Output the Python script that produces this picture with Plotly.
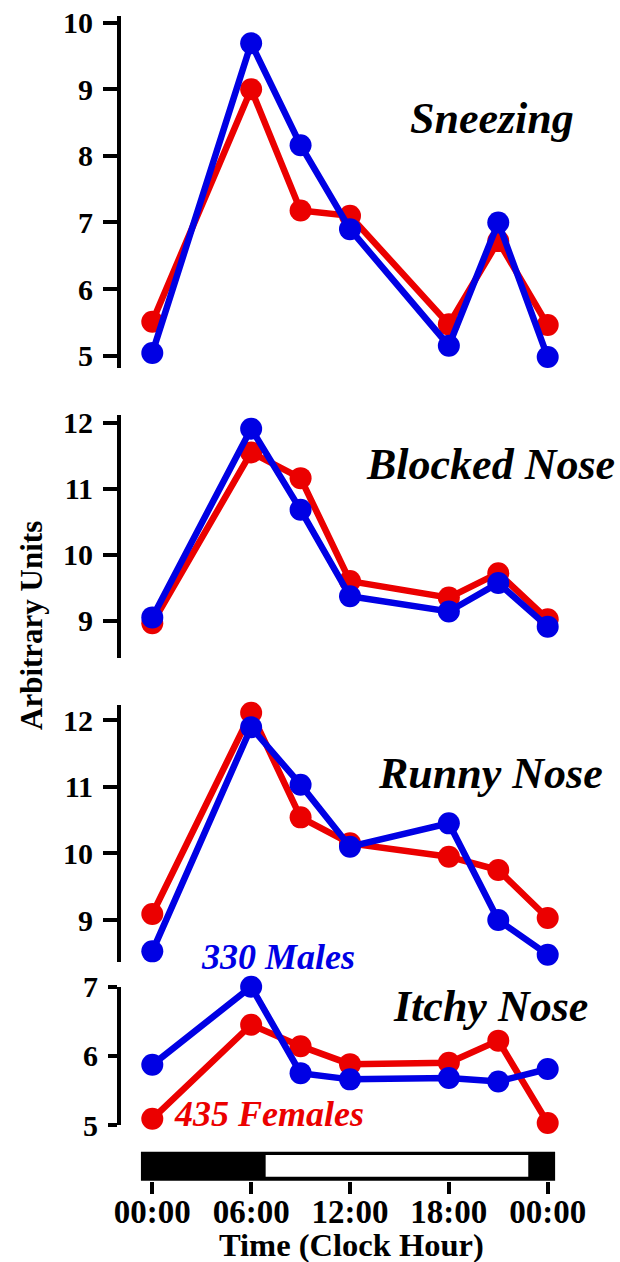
import plotly.graph_objects as go

W, H = 620, 1262

hours = [0, 6, 9, 12, 18, 21, 24]
x_tick_vals = [0, 6, 12, 18, 24]
x_tick_text = ["00:00", "06:00", "12:00", "18:00", "00:00"]

panel_names = ["Sneezing", "Blocked Nose", "Runny Nose", "Itchy Nose"]

sneezing_female = [5.51, 9.00, 7.18, 7.10, 5.47, 6.72, 5.46]
sneezing_male = [5.04, 9.69, 8.16, 6.90, 5.15, 7.00, 4.98]

blocked_female = [8.96, 11.55, 11.16, 9.60, 9.35, 9.72, 9.02]
blocked_male = [9.05, 11.91, 10.68, 9.37, 9.14, 9.57, 8.91]

runny_female = [9.09, 12.11, 10.54, 10.15, 9.95, 9.75, 9.03]
runny_male = [8.53, 11.89, 11.03, 10.10, 10.45, 9.00, 8.48]

itchy_female = [5.09, 6.45, 6.14, 5.88, 5.90, 6.22, 5.03]
itchy_male = [5.87, 7.00, 5.75, 5.66, 5.68, 5.63, 5.81]

y_tick_vals = [[5, 6, 7, 8, 9, 10], [9, 10, 11, 12], [9, 10, 11, 12], [5, 6, 7]]
y_ranges = [[4.815, 10.1], [8.43, 12.117], [8.375, 12.225], [5, 7]]

light_on, light_off = 6.88, 22.82
bar_start, bar_end = -0.69, 24.45

RED = "rgb(235,0,0)"
BLUE = "rgb(0,0,228)"
FONT = "Liberation Serif"

females = [sneezing_female, blocked_female, runny_female, itchy_female]
males = [sneezing_male, blocked_male, runny_male, itchy_male]

# pixel layout (top, bottom) of each y axis
panel_px = [(16, 368), (415, 658.3), (705, 961.7), (986.7, 1125)]
bar_px = (1151.7, 1180.7)
x_left_px = 121
px_per_hour = 16.475
x0_h = 0 - (152.3 - x_left_px) / px_per_hour
x1_h = x0_h + (W - x_left_px) / px_per_hour


def ydom(top, bot):
    return [1 - bot / H, 1 - top / H]


fig = go.Figure()

for i in range(4):
    n = "" if i == 0 else str(i + 1)
    for vals, col in ((females[i], RED), (males[i], BLUE)):
        fig.add_trace(go.Scatter(
            x=hours, y=vals, mode="lines+markers",
            line=dict(color=col, width=6.5),
            marker=dict(color=col, size=22),
            xaxis="x" + n, yaxis="y" + n, cliponaxis=False, showlegend=False,
        ))

layout = dict(
    width=W, height=H, margin=dict(l=0, r=0, t=0, b=0, autoexpand=False),
    paper_bgcolor="white", plot_bgcolor="white", showlegend=False,
    font=dict(family=FONT, color="black"),
)

for i in range(4):
    n = "" if i == 0 else str(i + 1)
    top, bot = panel_px[i]
    layout["xaxis" + n] = dict(domain=[x_left_px / W, 1], range=[x0_h, x1_h],
                               visible=False, anchor="y" + n, automargin=False)
    layout["yaxis" + n] = dict(
        domain=ydom(top, bot), range=y_ranges[i], anchor="x" + n, automargin=False,
        showline=True, linewidth=4, linecolor="black", showgrid=False, zeroline=False,
        ticks="outside", ticklen=14 if i < 3 else 9, tickwidth=4, tickcolor="black",
        tickvals=y_tick_vals[i], ticklabelstandoff=4,
        tickfont=dict(family=FONT, size=30, color="black", weight="bold"),
    )

layout["xaxis5"] = dict(
    domain=[x_left_px / W, 1], range=[x0_h, x1_h], anchor="y5", automargin=False,
    showline=False, showgrid=False, zeroline=False,
    ticks="outside", ticklen=12, tickwidth=3.5, tickcolor="black",
    tickvals=x_tick_vals, ticktext=x_tick_text, ticklabelstandoff=-10,
    tickfont=dict(family=FONT, size=33, color="black", weight="bold"),
)
layout["yaxis5"] = dict(domain=ydom(*bar_px), range=[0, 1], visible=False, anchor="x5",
                        automargin=False)

shapes = [
    dict(type="rect", xref="x5", yref="y5 domain", x0=bar_start, x1=bar_end, y0=0, y1=1,
         fillcolor="black", line=dict(width=0), layer="above"),
    dict(type="rect", xref="x5", yref="y5 domain", x0=light_on, x1=light_off, y0=0.14, y1=0.886,
         fillcolor="white", line=dict(width=0), layer="above"),
]
layout["shapes"] = shapes

title_pos = [(491.7, 119), (490.5, 464.7), (490.8, 773.3), (490.8, 1006)]
ann = []
for name, (px, py) in zip(panel_names, title_pos):
    ann.append(dict(text="<b><i>" + name + "</i></b>", x=px / W, y=1 - py / H,
                    xref="paper", yref="paper", xanchor="center", yanchor="middle",
                    showarrow=False, font=dict(family=FONT, size=44, color="black")))
ann.append(dict(text="<b><i>330 Males</i></b>", x=278.3 / W, y=1 - 957 / H,
                xref="paper", yref="paper", xanchor="center", yanchor="middle",
                showarrow=False, font=dict(family=FONT, size=36, color=BLUE)))
ann.append(dict(text="<b><i>435 Females</i></b>", x=268.7 / W, y=1 - 1114 / H,
                xref="paper", yref="paper", xanchor="center", yanchor="middle",
                showarrow=False, font=dict(family=FONT, size=36, color=RED)))
ann.append(dict(text="<b>Arbitrary Units</b>", x=31 / W, y=1 - 626 / H, textangle=-90,
                xref="paper", yref="paper", xanchor="center", yanchor="middle",
                showarrow=False, font=dict(family=FONT, size=31, color="black")))
ann.append(dict(text="<b>Time (Clock Hour)</b>", x=351.5 / W, y=1 - 1245 / H,
                xref="paper", yref="paper", xanchor="center", yanchor="middle",
                showarrow=False, font=dict(family=FONT, size=32.5, color="black")))
layout["annotations"] = ann

fig.update_layout(**layout)
fig.write_html("out.html", config={"displayModeBar": False},
               post_script="document.body.style.margin='0';document.body.style.overflow='hidden';")
